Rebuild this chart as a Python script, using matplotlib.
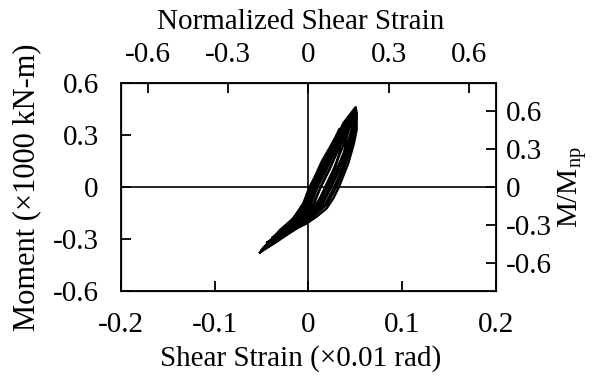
import matplotlib
matplotlib.use("Agg")
import matplotlib.pyplot as plt

plt.rcParams['font.family'] = ['Liberation Serif', 'DejaVu Serif']
plt.rcParams['mathtext.fontset'] = 'custom'
plt.rcParams['mathtext.rm'] = 'Liberation Serif'
plt.rcParams['mathtext.it'] = 'Liberation Serif'

# Cyclic response: shear strain (x0.01 rad) and moment (x1000 kN-m), one list pair per cycle
strain_c1 = [-0.030, -0.0179, -0.0032, 0.0032, 0.0133, 0.0224, 0.0300, 0.0330,
             0.0335, 0.0340, 0.0330, 0.0280, 0.0200, 0.0080, -0.0120, -0.030]
moment_c1 = [-0.250, -0.200, -0.100, 0.000, 0.100, 0.200, 0.300, 0.335,
             0.310, 0.250, 0.200, 0.100, 0.000, -0.100, -0.200, -0.250]

strain_c2 = [-0.038, -0.0158, -0.0004, 0.0065, 0.0162, 0.0250, 0.0341, 0.040,
             0.0405, 0.0412, 0.0380, 0.0300, 0.0200, 0.0110, -0.0080, -0.038]
moment_c2 = [-0.290, -0.200, -0.100, 0.000, 0.100, 0.200, 0.300, 0.370,
             0.350, 0.300, 0.200, 0.100, 0.000, -0.100, -0.200, -0.290]

strain_c3 = [-0.044, -0.0138, 0.0025, 0.0097, 0.0192, 0.0277, 0.0362, 0.0448, 0.046,
             0.0470, 0.0470, 0.0410, 0.0330, 0.0240, 0.0123, -0.0065, -0.044]
moment_c3 = [-0.320, -0.200, -0.100, 0.000, 0.100, 0.200, 0.300, 0.400, 0.410,
             0.380, 0.300, 0.200, 0.100, 0.000, -0.100, -0.200, -0.320]

strain_c4 = [-0.048, -0.0385, -0.0190, -0.0046, 0.0016, 0.0118, 0.0211, 0.0310, 0.0425, 0.049,
             0.0500, 0.0454, 0.0395, 0.0326, 0.0243, 0.0152, -0.0044, -0.0320, -0.048]
moment_c4 = [-0.352, -0.300, -0.200, -0.100, 0.000, 0.100, 0.200, 0.300, 0.400, 0.435,
             0.400, 0.300, 0.200, 0.100, 0.000, -0.100, -0.200, -0.300, -0.352]

strain_c5 = [-0.0517, -0.0304, -0.0162, -0.0055, 0.0005, 0.0069, 0.0141, 0.0212, 0.0283, 0.0340, 0.0371, 0.0503,
             0.0514, 0.0514, 0.0485, 0.0425, 0.0354, 0.0318, 0.0265, 0.0194, 0.0087, -0.0019, -0.0162, -0.0339, -0.0517]
moment_c5 = [-0.377, -0.248, -0.181, -0.094, -0.008, 0.060, 0.146, 0.213, 0.281, 0.330, 0.367, 0.460,
             0.425, 0.329, 0.252, 0.137, 0.040, -0.008, -0.065, -0.123, -0.171, -0.210, -0.248, -0.316, -0.377]

strain_c6 = [-0.050, -0.0376, -0.0169, -0.0018, 0.0049, 0.0148, 0.0237, 0.0331, 0.0435, 0.0505,
             0.0512, 0.0489, 0.0439, 0.0376, 0.0298, 0.0199, -0.0009, -0.0304, -0.050]
moment_c6 = [-0.365, -0.300, -0.200, -0.100, 0.000, 0.100, 0.200, 0.300, 0.400, 0.445,
             0.410, 0.300, 0.200, 0.100, 0.000, -0.100, -0.200, -0.300, -0.365]

strain_c7 = [-0.049, -0.0353, -0.0117, 0.0053, 0.0130, 0.0222, 0.0303, 0.0382, 0.0458, 0.050,
             0.0508, 0.0474, 0.0421, 0.0355, 0.0275, 0.0180, -0.0023, -0.0311, -0.049]
moment_c7 = [-0.360, -0.300, -0.200, -0.100, 0.000, 0.100, 0.200, 0.300, 0.400, 0.430,
             0.400, 0.300, 0.200, 0.100, 0.000, -0.100, -0.200, -0.300, -0.360]

strain_c8 = [-0.045, -0.0339, -0.0086, 0.0095, 0.0178, 0.0266, 0.0342, 0.0413, 0.048,
             0.0485, 0.0444, 0.0382, 0.0311, 0.0227, 0.0137, -0.0054, -0.0325, -0.045]
moment_c8 = [-0.335, -0.300, -0.200, -0.100, 0.000, 0.100, 0.200, 0.300, 0.400,
             0.370, 0.300, 0.200, 0.100, 0.000, -0.100, -0.200, -0.300, -0.335]

strain_c9 = [-0.047, -0.0367, -0.0148, 0.0011, 0.0081, 0.0177, 0.0264, 0.0351, 0.0444, 0.047,
             0.0478, 0.0400, 0.0303, 0.0222, 0.0130, 0.0053, -0.0117, -0.0353, -0.047]
moment_c9 = [-0.345, -0.300, -0.200, -0.100, 0.000, 0.100, 0.200, 0.300, 0.400, 0.420,
             0.390, 0.300, 0.200, 0.100, 0.000, -0.100, -0.200, -0.300, -0.345]

strain_cycles = [strain_c1, strain_c2, strain_c3, strain_c4, strain_c5,
                 strain_c6, strain_c7, strain_c8, strain_c9]
moment_cycles = [moment_c1, moment_c2, moment_c3, moment_c4, moment_c5,
                 moment_c6, moment_c7, moment_c8, moment_c9]

x_ticks = [-0.2, -0.1, 0, 0.1, 0.2]
x_labels = ['-0.2', '-0.1', '0', '0.1', '0.2']
y_ticks = [-0.6, -0.3, 0, 0.3, 0.6]
y_labels = ['-0.6', '-0.3', '0', '0.3', '0.6']
top_ticks = [-0.6, -0.3, 0, 0.3, 0.6]
top_labels = ['-0.6', '-0.3', '0', '0.3', '0.6']
right_ticks = [-0.6, -0.3, 0, 0.3, 0.6]
right_labels = ['-0.6', '-0.3', '0', '0.3', '0.6']

FS = 21
TICK = dict(direction='in', length=7, width=1.3, labelsize=FS)
fig = plt.figure(figsize=(5.99, 3.80), dpi=100)
ax = fig.add_axes([0.202, 0.234, 0.626, 0.548])

ax.axhline(0, color='black', lw=1.2, zorder=1)
ax.axvline(0, color='black', lw=1.2, zorder=1)
for xs, ys in zip(strain_cycles, moment_cycles):
    ax.plot(xs, ys, color='black', lw=1.7, zorder=2)

ax.set_xlim(-0.2, 0.2)
ax.set_ylim(-0.6, 0.6)
ax.set_xticks(x_ticks)
ax.set_xticklabels(x_labels)
ax.set_yticks(y_ticks)
ax.set_yticklabels(y_labels)
ax.tick_params(axis='x', pad=15, **TICK)
ax.tick_params(axis='y', pad=16, **TICK)
ax.set_xlabel('Shear Strain (\u00d70.01 rad)', fontsize=FS, labelpad=5)
ax.xaxis.label.set_x(0.48)
ax.set_ylabel('Moment (\u00d71000 kN-m)', fontsize=22, labelpad=8)
for s in ax.spines.values():
    s.set_linewidth(1.3)

# Normalized strain on top
axt = ax.twiny()
axt.set_xlim(-0.7, 0.7)
axt.set_xticks(top_ticks)
axt.set_xticklabels(top_labels)
axt.tick_params(axis='x', pad=11, **TICK)
axt.set_xlabel('Normalized Shear Strain', fontsize=FS, labelpad=9)
axt.xaxis.label.set_x(0.48)

# Normalized moment on right
axr = ax.twinx()
axr.set_ylim(-0.825, 0.825)
axr.set_yticks(right_ticks)
axr.set_yticklabels(right_labels)
axr.tick_params(axis='y', pad=7, **TICK)
axr.set_ylabel(r'M/M$_{\mathrm{np}}$', fontsize=FS, labelpad=3)

fig.savefig('out.png', dpi=100)
